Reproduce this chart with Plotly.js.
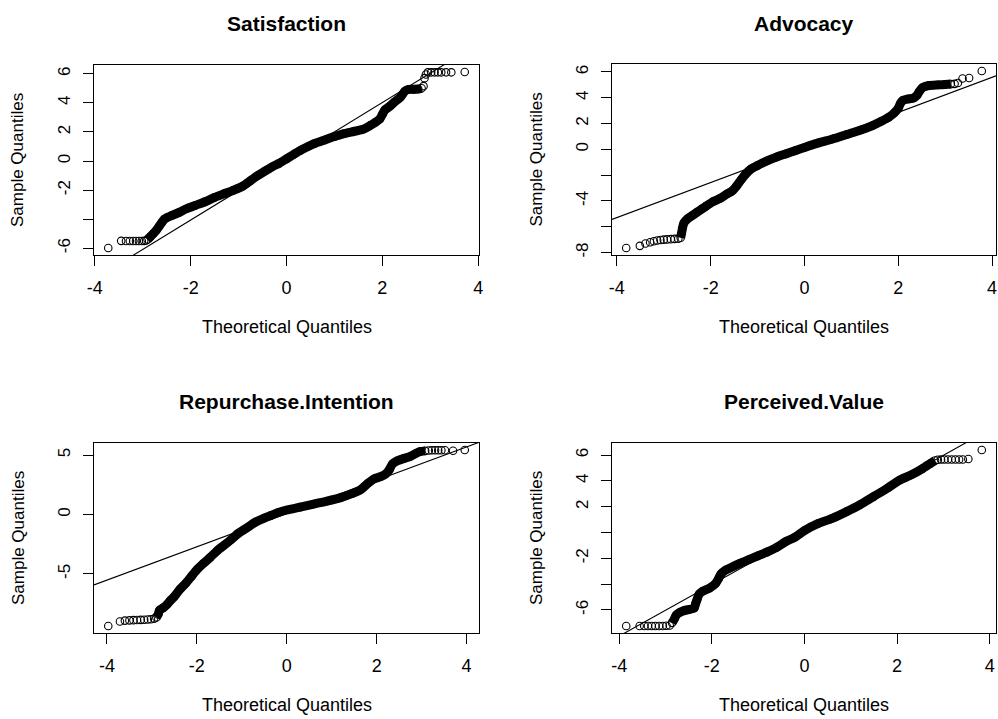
<!DOCTYPE html>
<html><head><meta charset="utf-8">
<script src="https://cdn.plot.ly/plotly-3.0.1.min.js"></script>
<style>html,body{margin:0;padding:0;background:#fff}#chart{width:998px;height:719px}</style>
</head><body><div id="chart"></div>
<script>
// ---------- data ----------
const panelTitles = ["Satisfaction", "Advocacy", "Repurchase.Intention", "Perceived.Value"];
const xTitle = "Theoretical Quantiles";
const yTitle = "Sample Quantiles";
const xTickVals = [-4, -2, 0, 2, 4];
const xTickText = ["-4", "-2", "0", "2", "4"];

// Satisfaction
const satLowX = [-3.72, -3.45, -3.35, -3.27, -3.2, -3.14, -3.08, -3.02, -2.97, -2.93];
const satLowY = [-5.98, -5.49, -5.5, -5.5, -5.5, -5.5, -5.5, -5.5, -5.49, -5.47];
const satBodyX = [-2.9, -2.84, -2.78, -2.72, -2.66, -2.6, -2.55, -2.5, -2.4, -2.25, -2.1, -1.9, -1.7, -1.5, -1.3, -1.1, -0.9, -0.75, -0.6, -0.45, -0.3, -0.15, 0, 0.15, 0.3, 0.45, 0.6, 0.8, 1.0, 1.2, 1.4, 1.6, 1.75, 1.85, 1.95, 2.0, 2.05, 2.15, 2.25, 2.38, 2.47, 2.55, 2.65, 2.75, 2.82];
const satBodyY = [-5.4, -5.2, -5.0, -4.78, -4.5, -4.22, -4.0, -3.9, -3.75, -3.55, -3.3, -3.05, -2.8, -2.5, -2.25, -2.0, -1.7, -1.35, -1.0, -0.7, -0.4, -0.15, 0.15, 0.45, 0.75, 1.0, 1.22, 1.45, 1.68, 1.88, 2.03, 2.18, 2.45, 2.65, 2.9, 3.2, 3.5, 3.75, 4.05, 4.4, 4.8, 4.92, 4.93, 4.95, 5.0];
const satHighX = [2.86, 2.88, 2.91, 2.95, 3.02, 3.09, 3.16, 3.23, 3.33, 3.44, 3.72];
const satHighY = [5.15, 5.7, 5.95, 6.1, 6.1, 6.1, 6.1, 6.1, 6.1, 6.1, 6.12];

// Advocacy
const advLowX = [-3.8, -3.51, -3.39, -3.29, -3.21, -3.14, -3.07, -3.0, -2.93, -2.85, -2.77, -2.69];
const advLowY = [-7.64, -7.48, -7.3, -7.2, -7.12, -7.06, -7.02, -7.0, -6.98, -6.96, -6.94, -6.92];
const advBodyX = [-2.64, -2.62, -2.6, -2.57, -2.5, -2.4, -2.3, -2.2, -2.1, -1.95, -1.8, -1.65, -1.55, -1.45, -1.35, -1.25, -1.15, -1.0, -0.8, -0.6, -0.4, -0.2, 0, 0.3, 0.6, 0.9, 1.2, 1.45, 1.65, 1.8, 1.92, 2.0, 2.05, 2.1, 2.2, 2.32, 2.4, 2.45, 2.52, 2.65, 2.85, 3.0, 3.12];
const advBodyY = [-6.85, -6.5, -6.1, -5.7, -5.4, -5.15, -4.9, -4.65, -4.4, -4.05, -3.8, -3.45, -3.25, -2.85, -2.35, -1.9, -1.55, -1.25, -0.9, -0.6, -0.35, -0.1, 0.15, 0.5, 0.8, 1.15, 1.5, 1.85, 2.2, 2.5, 2.85, 3.2, 3.6, 3.8, 3.9, 3.98, 4.2, 4.5, 4.8, 4.95, 5.0, 5.03, 5.06];
const advHighX = [3.2, 3.27, 3.37, 3.51, 3.78];
const advHighY = [5.08, 5.15, 5.5, 5.53, 6.07];

// Repurchase.Intention
const repLowX = [-3.97, -3.71, -3.6, -3.5, -3.41, -3.33, -3.25, -3.17, -3.09, -3.02, -2.95];
const repLowY = [-9.37, -9.0, -8.92, -8.9, -8.88, -8.87, -8.86, -8.85, -8.83, -8.8, -8.75];
const repBodyX = [-2.9, -2.86, -2.83, -2.75, -2.66, -2.58, -2.5, -2.38, -2.25, -2.12, -2.0, -1.85, -1.7, -1.55, -1.4, -1.25, -1.1, -0.9, -0.7, -0.5, -0.35, -0.2, 0, 0.3, 0.6, 0.9, 1.2, 1.45, 1.65, 1.8, 1.95, 2.1, 2.2, 2.28, 2.35, 2.45, 2.6, 2.75, 2.88, 2.98, 3.08];
const repBodyY = [-8.65, -8.4, -8.05, -7.85, -7.55, -7.2, -6.9, -6.3, -5.8, -5.2, -4.65, -4.1, -3.6, -3.05, -2.6, -2.15, -1.65, -1.15, -0.65, -0.3, -0.08, 0.15, 0.38, 0.62, 0.88, 1.13, 1.42, 1.75, 2.1, 2.6, 3.0, 3.2, 3.4, 3.75, 4.25, 4.5, 4.7, 4.88, 5.15, 5.3, 5.35];
const repHighX = [3.16, 3.23, 3.3, 3.37, 3.44, 3.52, 3.7, 3.96];
const repHighY = [5.38, 5.4, 5.4, 5.4, 5.4, 5.4, 5.36, 5.42];

// Perceived.Value
const perLowX = [-3.85, -3.56, -3.46, -3.38, -3.3, -3.22, -3.14, -3.06, -2.98, -2.91];
const perLowY = [-7.24, -7.24, -7.24, -7.24, -7.24, -7.24, -7.24, -7.24, -7.22, -7.2];
const perBodyX = [-2.86, -2.81, -2.77, -2.7, -2.6, -2.48, -2.38, -2.35, -2.32, -2.28, -2.2, -2.05, -1.92, -1.86, -1.8, -1.7, -1.55, -1.4, -1.2, -1.0, -0.8, -0.6, -0.4, -0.2, 0, 0.3, 0.6, 0.9, 1.2, 1.5, 1.8, 2.05, 2.3, 2.55, 2.72, 2.82];
const perBodyY = [-7.0, -6.7, -6.4, -6.2, -6.05, -5.95, -5.85, -5.5, -5.2, -4.8, -4.55, -4.3, -3.95, -3.6, -3.2, -2.9, -2.65, -2.4, -2.1, -1.8, -1.5, -1.15, -0.7, -0.35, 0.15, 0.7, 1.1, 1.6, 2.15, 2.8, 3.45, 4.05, 4.45, 4.95, 5.35, 5.58];
const perHighX = [2.88, 2.95, 3.02, 3.1, 3.18, 3.26, 3.34, 3.42, 3.54, 3.83];
const perHighY = [5.64, 5.66, 5.66, 5.66, 5.66, 5.66, 5.66, 5.66, 5.69, 6.39];

// qqline (intercept, slope) per panel
const qqIntercept = [-0.02, 0.15, 0.08, -0.02];
const qqSlope = [2.02, 1.36, 1.40, 2.0];

// y tick values / labels per panel (R drops overlapping labels)
const yTickVals = [
  [-6, -4, -2, 0, 2, 4, 6],
  [-8, -6, -4, -2, 0, 2, 4, 6],
  [-5, 0, 5],
  [-6, -4, -2, 0, 2, 4, 6]
];
const yTickText = [
  ["-6", "", "-2", "0", "2", "4", "6"],
  ["-8", "", "-4", "", "0", "2", "4", "6"],
  ["-5", "0", "5"],
  ["-6", "", "-2", "", "2", "4", "6"]
];

// ---------- build ----------
const W = 998, H = 719;
const panels = [
  {low: [satLowX, satLowY], body: [satBodyX, satBodyY], high: [satHighX, satHighY]},
  {low: [advLowX, advLowY], body: [advBodyX, advBodyY], high: [advHighX, advHighY]},
  {low: [repLowX, repLowY], body: [repBodyX, repBodyY], high: [repHighX, repHighY]},
  {low: [perLowX, perLowY], body: [perBodyX, perBodyY], high: [perHighX, perHighY]}
];
// plot boxes in pixels [left, right, top, bottom]
const boxes = [[94, 479, 65, 255], [612, 996, 64, 255], [94, 479, 443, 633], [612, 996, 443, 633]];
const titleY = [23, 23, 402, 402];
const xTitleY = [327, 327, 705, 705];
const yTitleX = [18, 536, 18, 536];

const FONT = "Liberation Sans, Arial, Helvetica, sans-serif";
const traces = [];
const layout = {
  width: W, height: H, margin: {l: 0, r: 0, t: 0, b: 0},
  paper_bgcolor: "#fff", plot_bgcolor: "#fff", showlegend: false,
  annotations: []
};

function ext(arrs) {
  let mn = Infinity, mx = -Infinity;
  arrs.forEach(a => a.forEach(v => { if (v < mn) mn = v; if (v > mx) mx = v; }));
  const d = (mx - mn) * 0.04;
  return [mn - d, mx + d];
}

const markerStyle = {symbol: "circle-open", size: 7.5, color: "#000", line: {color: "#000", width: 1.1}};

panels.forEach((p, i) => {
  const n = i + 1;
  const xa = "x" + (n === 1 ? "" : n), ya = "y" + (n === 1 ? "" : n);
  const xr = ext([p.low[0], p.body[0], p.high[0]]);
  const yr = ext([p.low[1], p.body[1], p.high[1]]);
  // qqline
  traces.push({x: [xr[0], xr[1]], y: [qqIntercept[i] + qqSlope[i] * xr[0], qqIntercept[i] + qqSlope[i] * xr[1]],
    xaxis: xa, yaxis: ya, mode: "lines", line: {color: "#000", width: 1.1}, hoverinfo: "skip"});
  // dense body
  traces.push({x: p.body[0], y: p.body[1], xaxis: xa, yaxis: ya, mode: "lines",
    line: {color: "#000", width: 9, shape: "spline", smoothing: 0.6}, hoverinfo: "skip"});
  traces.push({x: p.body[0], y: p.body[1], xaxis: xa, yaxis: ya, mode: "markers", marker: markerStyle});
  traces.push({x: p.low[0], y: p.low[1], xaxis: xa, yaxis: ya, mode: "markers", marker: markerStyle});
  traces.push({x: p.high[0], y: p.high[1], xaxis: xa, yaxis: ya, mode: "markers", marker: markerStyle});

  const b = boxes[i];
  const xd = [b[0] / W, b[1] / W], yd = [1 - b[3] / H, 1 - b[2] / H];
  layout["xaxis" + (n === 1 ? "" : n)] = {
    domain: xd, anchor: ya, range: xr, tickmode: "array", tickvals: xTickVals, ticktext: xTickText,
    ticks: "outside", ticklen: 10, tickwidth: 1, tickcolor: "#000",
    showline: true, linecolor: "#000", linewidth: 1, mirror: true,
    showgrid: false, zeroline: false, ticklabelstandoff: 6,
    tickfont: {family: FONT, size: 18, color: "#000"}, fixedrange: true
  };
  layout["yaxis" + (n === 1 ? "" : n)] = {
    domain: yd, anchor: xa, range: yr, tickmode: "array", tickvals: yTickVals[i], ticktext: yTickText[i],
    ticks: "outside", ticklen: 10, tickwidth: 1, tickcolor: "#000", tickangle: -90,
    showline: true, linecolor: "#000", linewidth: 1, mirror: true,
    showgrid: false, zeroline: false, ticklabelstandoff: 6,
    tickfont: {family: FONT, size: 17, color: "#000"}, fixedrange: true
  };
  const cx = (xd[0] + xd[1]) / 2;
  layout.annotations.push({text: "<b>" + panelTitles[i] + "</b>", xref: "paper", yref: "paper",
    x: cx, y: 1 - titleY[i] / H, xanchor: "center", yanchor: "middle", showarrow: false,
    font: {family: FONT, size: 21, color: "#000"}});
  layout.annotations.push({text: xTitle, xref: "paper", yref: "paper",
    x: cx, y: 1 - xTitleY[i] / H, xanchor: "center", yanchor: "middle", showarrow: false,
    font: {family: FONT, size: 18, color: "#000"}});
  layout.annotations.push({text: yTitle, xref: "paper", yref: "paper", textangle: -90,
    x: yTitleX[i] / W, y: (yd[0] + yd[1]) / 2, xanchor: "center", yanchor: "middle", showarrow: false,
    font: {family: FONT, size: 17, color: "#000"}});
});

Plotly.newPlot("chart", traces, layout, {staticPlot: true, displayModeBar: false});
</script></body></html>
